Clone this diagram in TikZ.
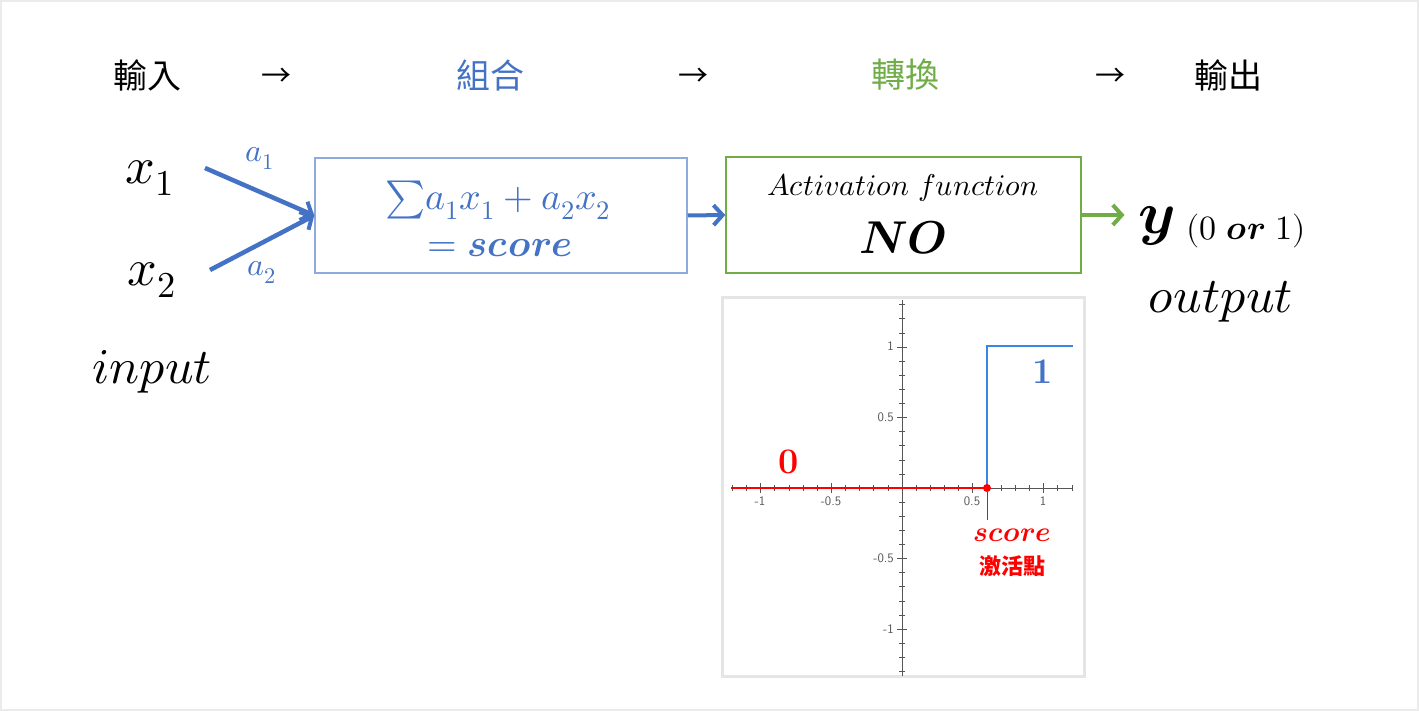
\documentclass[tikz,border=0pt]{standalone}
\usepackage{fontspec}
\usepackage{unicode-math}
\setmathfont{Latin Modern Math}
\newfontfamily\cjk{Noto Sans CJK TC}
\usetikzlibrary{arrows.meta}
\definecolor{cblue}{HTML}{4472C4}
\definecolor{lblue}{HTML}{8FAADC}
\definecolor{cgreen}{HTML}{70AD47}
\definecolor{stepblue}{HTML}{3A86E8}
\definecolor{cred}{HTML}{FF0000}
\definecolor{axgray}{HTML}{555555}
\newcommand{\fs}[1]{\fontsize{#1}{\dimexpr #1pt*6/5\relax}\selectfont}
\tikzset{
  head/.style={inner sep=0pt, font=\cjk\fs{34}},
  harrow/.style={inner sep=0pt, font=\cjk\fs{30}},
  bigm/.style={inner sep=0pt, font=\fs{52}},
  wlabel/.style={inner sep=0pt, text=cblue, font=\fs{32}},
  flow/.style={line width=4.5pt, -{Straight Barb[length=9pt,width=20pt,line width=4pt]}},
  box/.style={draw, line width=1.5pt, inner sep=0pt},
  txt/.style={inner sep=0pt},
  ticklab/.style={inner sep=0pt, text=axgray, font=\sffamily\fs{13}},
}
\begin{document}
\begin{tikzpicture}[x=1pt,y=-1pt]
\useasboundingbox (0,0) rectangle (1419,711);
\draw[black!8, line width=2pt] (1,1) rectangle (1418,710);

% header
\node[head] (h1) at (147,75) {輸入};
\node[harrow] (ar1) at (276,77) {→};
\node[head, text=cblue] (h2) at (490,75) {組合};
\node[harrow] (ar2) at (693,77) {→};
\node[head, text=cgreen] (h3) at (905,75) {轉換};
\node[harrow] (ar3) at (1110,77) {→};
\node[head] (h4) at (1228,75) {輸出};

% inputs
\node[bigm] (x1) at (150,178) {$x_1$};
\node[bigm] (x2) at (152,280) {$x_2$};
\node[txt, font=\fs{50}] (inp) at (152,372) {$input$};

% box 1
\node[box, draw=lblue, minimum width=372pt, minimum height=115pt] (b1) at (501,215.5) {};
\node[txt, text=cblue, font=\fs{38}, anchor=base] (b1l1) at (498,210) {$\smash{\sum} a_1x_1+a_2x_2$};
\node[txt, text=cblue, font=\fs{38}, anchor=base] (b1l2) at (500,257) {$=\symbfit{score}$};

\coordinate (s1) at (205,168);
\coordinate (s2) at (210,270);
\draw[flow, cblue] (s1) -- (b1.west);
\draw[flow, cblue] (s2) -- (b1.west);
\node[wlabel] (a1) at (260,158) {$a_1$};
\node[wlabel] (a2) at (262,272) {$a_2$};

% box 2
\node[box, draw=cgreen, minimum width=355pt, minimum height=116pt] (b2) at (903.5,215) {};
\node[txt, font=\fs{30}] (b2l1) at (903,188) {$Activation\ function$};
\node[txt, font=\fs{46}] (b2l2) at (903,238) {$\symbfit{NO}$};
\draw[flow, cblue, line width=4pt] (b1.east) -- (b2.west);

% output
\node[txt, font=\fs{60}] (y) at (1157,226) {$\symbfit{y}$};
\node[txt, font=\fs{34}, anchor=west] (y01) at (1186,231) {$(0\ \symbfit{or}\ 1)$};
\draw[flow, cgreen, line width=4pt, shorten >=14pt] (b2.east) -- (b2.east -| y.west);
\node[txt, font=\fs{50}] (out) at (1221,302) {$output$};

% graph panel
\draw[black!10, line width=3pt, fill=white] (722,298) rectangle (1084,676);
\begin{scope}[axgray]
  \draw[line width=1pt] (731,488) -- (1073,488);
  \draw[line width=1pt] (902,300) -- (902,676);
  \foreach \i in {-12,...,12} {
    \draw[line width=0.6pt] ({902+14.15*\i},485) -- ({902+14.15*\i},491);
  }
  \foreach \i in {-13,...,13} {
    \draw[line width=0.6pt] (899,{488+14.1*\i}) -- (905,{488+14.1*\i});
  }
  \foreach \i in {-10,-5,5,10} {
    \draw[line width=1pt] ({902+14.15*\i},483) -- ({902+14.15*\i},493);
    \draw[line width=1pt] (897,{488+14.1*\i}) -- (907,{488+14.1*\i});
  }
\end{scope}
\node[ticklab] (tx1) at (760,501) {-1};
\node[ticklab] (tx2) at (831,501) {-0.5};
\node[ticklab] (tx3) at (972,501) {0.5};
\node[ticklab] (tx4) at (1043,501) {1};
\node[ticklab, anchor=east] (ty1) at (894,346) {1};
\node[ticklab, anchor=east] (ty2) at (894,417) {0.5};
\node[ticklab, anchor=east] (ty3) at (894,558) {-0.5};
\node[ticklab, anchor=east] (ty4) at (894,629) {-1};

\draw[cred, line width=2.2pt] (731,488) -- (987,488);
\draw[stepblue, line width=2.2pt] (987,488) -- (987,346) -- (1073,346);
\node[circle, fill=cred, inner sep=0pt, minimum size=8pt] (pt) at (987,488) {};
\coordinate (ptb) at (987,520);
\draw[cred, line width=1pt] (pt) -- (ptb);
\node[txt, text=cblue, font=\bfseries\fs{36}] (one) at (1043,372) {1};
\node[txt, text=cred, font=\bfseries\fs{36}] (zero) at (789,462) {0};
\node[txt, text=cred, font=\fs{28}] (sc) at (1012,535) {$\symbfit{score}$};
\node[txt, text=cred, font=\cjk\bfseries\fs{22}] (jh) at (1012,566) {激活點};
\end{tikzpicture}
\end{document}
